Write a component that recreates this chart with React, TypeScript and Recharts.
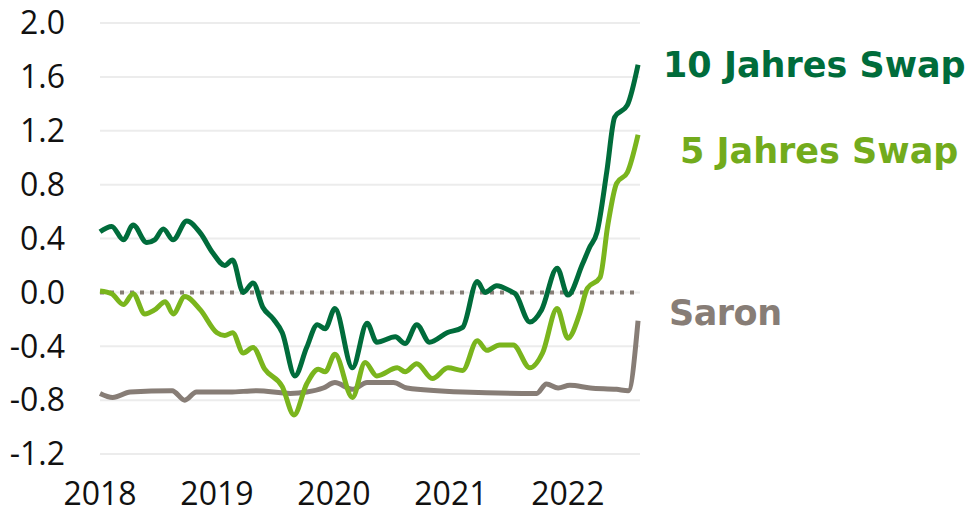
import { LineChart, Line, XAxis, YAxis, CartesianGrid, ReferenceLine } from "recharts";

// x = months since Jan 2018
const yearTicks = [0, 12, 24, 36, 48];
const yearLabels = ["2018", "2019", "2020", "2021", "2022"];
const valueTicks = [-1.2, -0.8, -0.4, 0, 0.4, 0.8, 1.2, 1.6, 2.0];

const swap10Months = [
  0, 1.2, 2.4, 3.4, 4.8, 5.6, 6.5, 7.5, 8.9, 10.3, 11.6, 12.8, 13.6, 14.7, 15.7, 16.7, 17.8, 18.7, 20.0, 21.2,
  22.3, 23.1, 24.1, 25.9, 27.4, 28.4, 30.3, 31.3, 32.5, 33.8, 35.6, 37.2, 38.7, 39.5, 40.7, 42.1, 42.6, 44.1,
  45.3, 46.9, 48.0, 49.5, 50.2, 51.0, 52.0, 52.8, 54.1, 55.2,
];
const swap10Values = [
  0.45, 0.49, 0.39, 0.5, 0.37, 0.39, 0.47, 0.39, 0.53, 0.44, 0.29, 0.2, 0.24, 0.0, 0.07, -0.11, -0.2, -0.3, -0.62,
  -0.41, -0.24, -0.27, -0.12, -0.56, -0.23, -0.37, -0.33, -0.38, -0.24, -0.37, -0.3, -0.26, 0.08, 0.0, 0.05, 0.01,
  -0.01, -0.22, -0.13, 0.18, -0.02, 0.21, 0.33, 0.45, 0.9, 1.3, 1.39, 1.69,
];

const swap5Months = [
  0, 1.2, 2.4, 3.4, 4.6, 5.6, 6.7, 7.5, 8.7, 10.3, 12.0, 12.8, 13.6, 14.7, 15.7, 16.9, 18.7, 19.9, 21.2, 22.4,
  23.1, 24.1, 25.9, 27.2, 28.4, 30.5, 31.3, 32.5, 34.1, 35.7, 37.2, 38.7, 39.7, 41.0, 42.4, 44.1, 45.4, 46.9,
  48.0, 49.2, 50.0, 51.3, 52.1, 53.0, 54.1, 55.2,
];
const swap5Values = [
  0.01, -0.01, -0.09, -0.01, -0.16, -0.13, -0.07, -0.16, -0.03, -0.13, -0.3, -0.32, -0.3, -0.45, -0.41, -0.57,
  -0.7, -0.91, -0.68, -0.57, -0.59, -0.46, -0.78, -0.52, -0.62, -0.56, -0.59, -0.53, -0.64, -0.56, -0.58, -0.36,
  -0.43, -0.39, -0.39, -0.56, -0.45, -0.12, -0.34, -0.16, 0.03, 0.11, 0.5, 0.81, 0.89, 1.17,
];

const saronMonths = [
  0, 1.3, 3.1, 7.4, 8.7, 9.9, 13.3, 16.1, 19.5, 21.2, 22.9, 24.1, 25.9, 27.4, 30.1, 31.5, 37.2, 44.8, 45.8, 47.0,
  48.2, 50.3, 53.0, 54.2, 55.2,
];
const saronValues = [
  -0.75, -0.78, -0.74, -0.73, -0.8, -0.74, -0.74, -0.73, -0.75, -0.74, -0.71, -0.67, -0.72, -0.67, -0.67, -0.71,
  -0.74, -0.75, -0.68, -0.71, -0.69, -0.71, -0.72, -0.73, -0.21,
];

const DARK_GREEN = "#006c3b";
const LIGHT_GREEN = "#7ab51d";
const GREY = "#877d76";
const FONT = "'Open Sans', sans-serif";
const LABEL_FONT = "'DejaVu Sans', sans-serif";

const toRows = (months: number[], values: number[]) => months.map((m, i) => ({ m, v: values[i] }));

export default function App() {
  const labelStyle = {
    position: "absolute" as const,
    fontFamily: LABEL_FONT,
    fontWeight: 700,
    fontSize: 35,
    lineHeight: "35px",
    letterSpacing: 0,
    whiteSpace: "nowrap" as const,
  };
  return (
    <div style={{ position: "absolute", left: 0, top: 0, width: 977, height: 514, background: "#fff" }}>
      <LineChart width={977} height={514} margin={{ top: 23, right: 337, bottom: 0, left: 0 }}>
        <CartesianGrid vertical={false} stroke="#ececec" strokeWidth={2} />
        <XAxis
          type="number"
          dataKey="m"
          domain={[0, 55.4]}
          ticks={yearTicks}
          tickFormatter={(t: number) => yearLabels[yearTicks.indexOf(t)]}
          height={60}
          axisLine={false}
          tickLine={false}
          tickSize={0}
          tickMargin={28}
          tick={{ fill: "#111", fontSize: 32, fontFamily: FONT }}
          allowDuplicatedCategory={false}
        />
        <YAxis
          type="number"
          domain={[-1.2, 2.0]}
          ticks={valueTicks}
          tickFormatter={(v: number) => v.toFixed(1)}
          width={100}
          axisLine={false}
          tickLine={false}
          tickSize={0}
          tickMargin={35}
          tick={{ fill: "#111", fontSize: 32, fontFamily: FONT }}
        />
        <ReferenceLine y={0} stroke={GREY} strokeWidth={4} strokeDasharray="4 6" />
        <Line
          data={toRows(saronMonths, saronValues)}
          dataKey="v"
          type="monotone"
          stroke={GREY}
          strokeWidth={5}
          dot={false}
          isAnimationActive={false}
        />
        <Line
          data={toRows(swap5Months, swap5Values)}
          dataKey="v"
          type="monotone"
          stroke={LIGHT_GREEN}
          strokeWidth={5}
          dot={false}
          isAnimationActive={false}
        />
        <Line
          data={toRows(swap10Months, swap10Values)}
          dataKey="v"
          type="monotone"
          stroke={DARK_GREEN}
          strokeWidth={5}
          dot={false}
          isAnimationActive={false}
        />
      </LineChart>
      <div style={{ ...labelStyle, left: 663, top: 48, color: DARK_GREEN }}>10 Jahres Swap</div>
      <div style={{ ...labelStyle, left: 680, top: 134, color: "#72ab1c" }}>5 Jahres Swap</div>
      <div style={{ ...labelStyle, left: 669, top: 296, letterSpacing: -0.5, color: GREY }}>Saron</div>
    </div>
  );
}
